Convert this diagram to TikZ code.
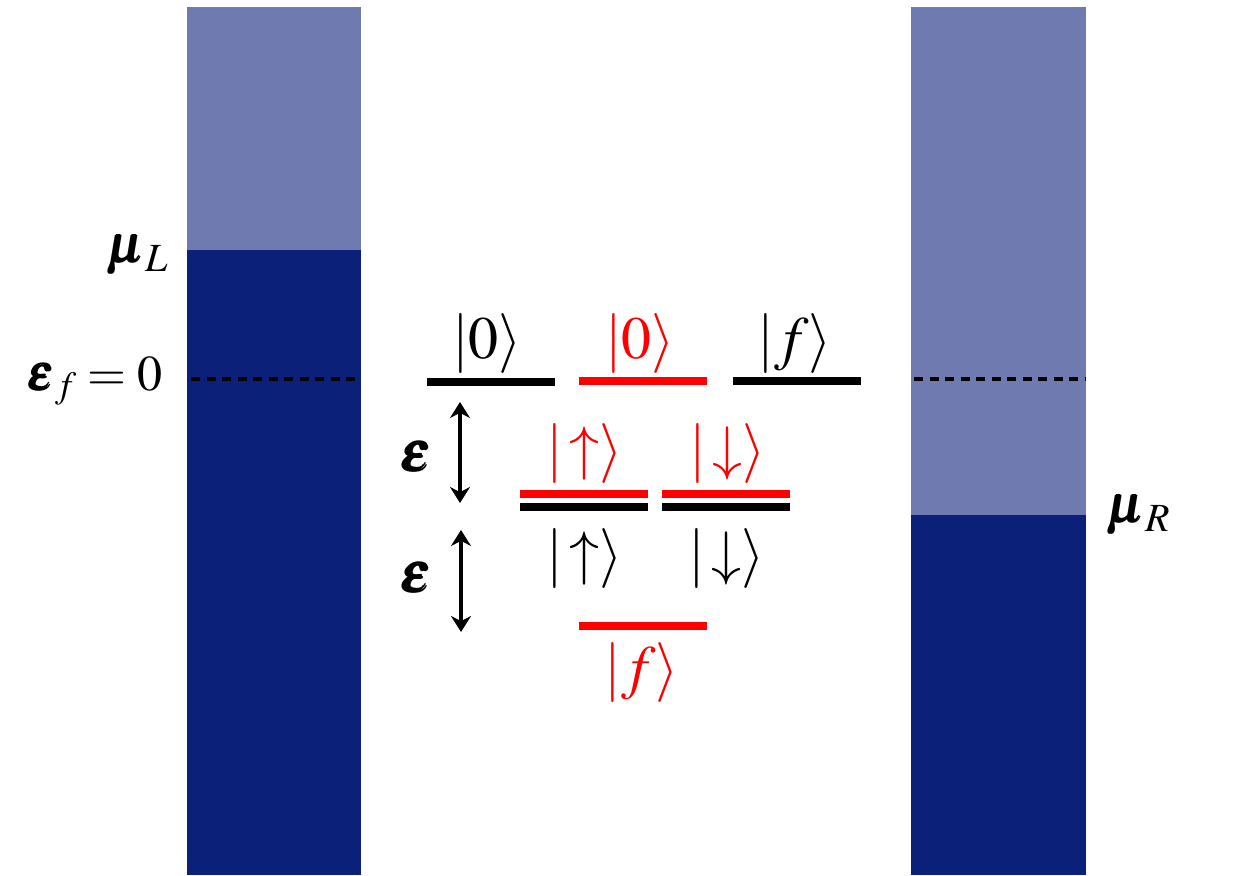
\documentclass[tikz,border=0pt]{standalone}
\usepackage{mathptmx}
\usepackage{amsmath}
\usepackage{anyfontsize}
\usetikzlibrary{arrows.meta}
\definecolor{lightband}{RGB}{111,123,176}
\definecolor{darkband}{RGB}{11,32,121}
\definecolor{lvlred}{RGB}{255,0,0}
\begin{document}
\begin{tikzpicture}[x=1pt,y=-1pt,
  lvl/.style={line width=8pt},
  fermi/.style={line width=4pt,dash pattern=on 9pt off 6.5pt},
  ket/.style={inner sep=0pt,font=\fontsize{60}{70}\selectfont},
  elab/.style={inner sep=0pt,font=\fontsize{56}{64}\selectfont},
  mulab/.style={inner sep=0pt,font=\fontsize{54}{62}\selectfont},
  flab/.style={inner sep=0pt,font=\fontsize{50}{58}\selectfont},
  dbl/.style={line width=3.5pt,{Stealth[length=16pt,width=20pt]}-{Stealth[length=16pt,width=20pt]}}]
\useasboundingbox (0,0) rectangle (1241,875);
% leads
\fill[lightband] (187,7) rectangle (361,250);
\fill[darkband] (187,250) rectangle (361,875);
\fill[lightband] (911,7) rectangle (1086,515);
\fill[darkband] (911,515) rectangle (1086,875);
% Fermi level dashes
\coordinate (dLa) at (191,379); \coordinate (dLb) at (359,379);
\coordinate (dRa) at (914,379); \coordinate (dRb) at (1085,379);
\draw[fermi] (dLa) -- (dLb);
\draw[fermi] (dRa) -- (dRb);
% levels
\coordinate (b0a) at (427,382); \coordinate (b0b) at (555,382);
\coordinate (r0a) at (579,381); \coordinate (r0b) at (707,381);
\coordinate (bfa) at (733,381); \coordinate (bfb) at (861,381);
\coordinate (rua) at (520,494); \coordinate (rub) at (648,494);
\coordinate (rda) at (662,494); \coordinate (rdb) at (790,494);
\coordinate (bua) at (520,507); \coordinate (bub) at (648,507);
\coordinate (bda) at (662,507); \coordinate (bdb) at (790,507);
\coordinate (rfa) at (579,626); \coordinate (rfb) at (707,626);
\draw[lvl,black] (b0a) -- (b0b);
\draw[lvl,lvlred] (r0a) -- (r0b);
\draw[lvl,black] (bfa) -- (bfb);
\draw[lvl,lvlred] (rua) -- (rub);
\draw[lvl,lvlred] (rda) -- (rdb);
\draw[lvl,black] (bua) -- (bub);
\draw[lvl,black] (bda) -- (bdb);
\draw[lvl,lvlred] (rfa) -- (rfb);
% ket labels
\node[ket] (k0b) at (487,344) {$|0\rangle$};
\node[ket,text=lvlred] (k0r) at (640,344) {$|0\rangle$};
\node[ket] (kfb) at (795,344) {$|f\rangle$};
\node[ket,text=lvlred] (kur) at (585,454) {$|\!\uparrow\rangle$};
\node[ket,text=lvlred] (kdr) at (728,454) {$|\!\downarrow\rangle$};
\node[ket] (kub) at (585,559) {$|\!\uparrow\rangle$};
\node[ket] (kdb) at (727,559) {$|\!\downarrow\rangle$};
\node[ket,text=lvlred] (kfr) at (642,673) {$|f\rangle$};
% energy spacing arrows
\coordinate (a1t) at (460,402); \coordinate (a1b) at (460,503);
\coordinate (a2t) at (461,530); \coordinate (a2b) at (461,632);
\draw[dbl] (a1t) -- (a1b);
\draw[dbl] (a2t) -- (a2b);
\node[elab] (e1) at (417,457) {$\pmb{\varepsilon}$};
\node[elab] (e2) at (417,578) {$\pmb{\varepsilon}$};
% chemical potentials
\node[mulab] (muL) at (138,255) {$\pmb{\mu}_L$};
\node[mulab] (muR) at (1139,515) {$\pmb{\mu}_R$};
\node[flab,anchor=base east] (ef) at (163,390) {$\pmb{\varepsilon}_f=0$};
\end{tikzpicture}
\end{document}
